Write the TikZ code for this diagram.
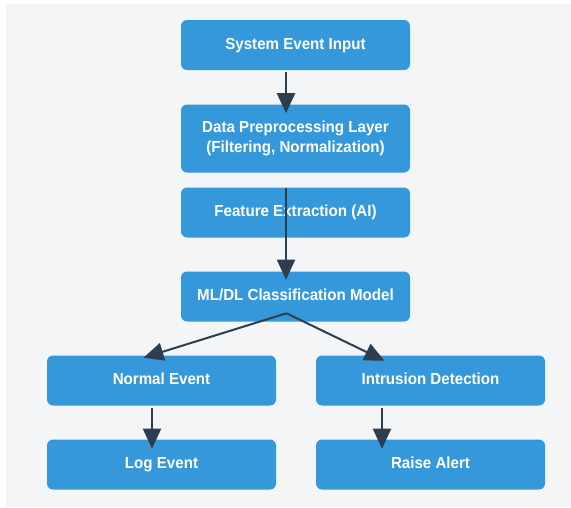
\documentclass[tikz,border=0pt]{standalone}
\usepackage{fontspec}
\setmainfont{Liberation Sans}[FakeStretch=0.945]
\usetikzlibrary{arrows.meta}
\definecolor{bgc}{HTML}{F4F5F7}
\definecolor{boxc}{HTML}{3498DB}
\definecolor{arrc}{HTML}{2C3E50}
\tikzset{
  stepbox/.style={fill=boxc, rounded corners=4.5pt, minimum width=229*0.75pt, minimum height=50*0.75pt,
    inner sep=0pt, text=white, font=\fontsize{12pt}{14.5pt}\selectfont\bfseries, align=center,
    text height=8.7pt, text depth=2.5pt},
  flow/.style={draw=arrc, line width=1.5pt, -{Triangle[length=15pt,width=13.5pt]}}
}
\begin{document}
\begin{tikzpicture}[x=0.75pt,y=-0.75pt]
\useasboundingbox (0,0) rectangle (571,507);
\fill[bgc] (6,4) rectangle (571,507);
\node[stepbox] (sys) at (295.5,45) {System Event Input};
\node[stepbox, minimum height=68*0.75pt, text height=, text depth=] (data) at (295.5,138.5) {Data Preprocessing Layer\\(Filtering, Normalization)};
\node[stepbox] (feat) at (295.5,212.5) {Feature Extraction (AI)};
\node[stepbox] (ml) at (295.5,296.5) {ML/DL Classification Model};
\node[stepbox] (norm) at (161.5,380.5) {Normal Event};
\node[stepbox] (intr) at (430.5,380.5) {Intrusion Detection};
\node[stepbox] (log) at (161.5,464.5) {Log Event};
\node[stepbox] (alert) at (430.5,464.5) {Raise Alert};
% connector end points
\coordinate (s1) at ([xshift=-9.5*0.75pt, yshift=-2*0.75pt]sys.south);
\coordinate (e1) at ([xshift=-9.5*0.75pt, yshift=-9*0.75pt]data.north);
\coordinate (s2) at ([xshift=-9.5*0.75pt, yshift=-1*0.75pt]feat.north);
\coordinate (e2) at ([xshift=-9.5*0.75pt, yshift=-8.5*0.75pt]ml.north);
\coordinate (s3) at ([xshift=-9*0.75pt, yshift=8.5*0.75pt]ml.south);
\coordinate (e3) at ([xshift=-18*0.75pt, yshift=-2.5*0.75pt]norm.north);
\coordinate (e4) at ([xshift=-46*0.75pt, yshift=-5.5*0.75pt]intr.north);
\coordinate (s5) at ([xshift=-9.5*0.75pt, yshift=-2.5*0.75pt]norm.south);
\coordinate (e5) at ([xshift=-9.5*0.75pt, yshift=-9.5*0.75pt]log.north);
\coordinate (s6) at ([xshift=-48.5*0.75pt, yshift=-2.5*0.75pt]intr.south);
\coordinate (e6) at ([xshift=-48.5*0.75pt, yshift=-9.5*0.75pt]alert.north);
\draw[flow] (s1) -- (e1);
\draw[flow] (s2) -- (e2);
\draw[flow] (s3) -- (e3);
\draw[flow] (s3) -- (e4);
\draw[flow] (s5) -- (e5);
\draw[flow] (s6) -- (e6);
\end{tikzpicture}
\end{document}
